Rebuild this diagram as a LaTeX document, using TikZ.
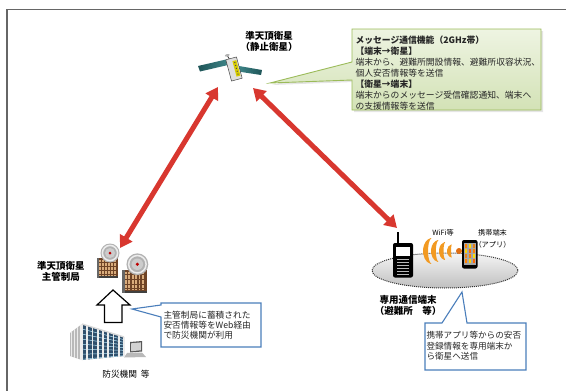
\documentclass[tikz,border=0pt]{standalone}
\usepackage{fontspec}
\setmainfont{Noto Sans CJK JP}
\usetikzlibrary{arrows.meta,shadows,calc}

\definecolor{frameGray}{HTML}{666666}
\definecolor{linkRed}{HTML}{D8372F}
\definecolor{noteGreenTop}{HTML}{EEF4E2}
\definecolor{noteGreenBot}{HTML}{D3E2B6}
\definecolor{noteGreenLine}{HTML}{9BBB59}
\definecolor{noteBlue}{HTML}{4A7EBB}
\definecolor{panelDark}{HTML}{1F5558}
\definecolor{panelLight}{HTML}{3E8588}
\definecolor{brickBrown}{HTML}{6E4326}
\definecolor{windowTan}{HTML}{D9AC7C}
\definecolor{glassBlue}{HTML}{2F4F6C}
\definecolor{wifiOrange}{HTML}{F29A22}
\definecolor{wifiDeep}{HTML}{E06E12}

\tikzset{
  station/.pic={
    % building body
    \fill[brickBrown] (-10.5,0) rectangle (10.5,20);
    \foreach \i in {-8.5,-5.5,...,8} \fill[windowTan] (\i,1.5) rectangle ++(1.7,16);
    \foreach \j in {4,8,12,16} \draw[brickBrown, line width=0.6pt] (-10.5,\j) -- (10.5,\j);
    \fill[black!75] (-10.5,18) rectangle (10.5,20);
    \fill[black!60] (-10.5,0) rectangle (-8.5,20);
    % dish on the roof
    \fill[gray!60] (2.5,-5) circle (9.5);
    \draw[gray!15, line width=1.5pt] (2.5,-5) circle (7.6);
    \fill[gray!40] (2.5,-5) circle (5);
    \fill[red!75!black] (2.5,-5) circle (1.5);
  }
}

\begin{document}
\begin{tikzpicture}[x=1pt,y=-1pt,
  every node/.style={inner sep=0pt, outer sep=0pt},
  frameline/.style={draw=frameGray, line width=1.5pt},
  link/.style={draw=linkRed, line width=5pt,
    {Triangle[length=12pt,width=14pt]}-{Triangle[length=12pt,width=14pt]}},
  greennote/.style={draw=noteGreenLine, line width=0.9pt,
    top color=noteGreenTop, bottom color=noteGreenBot,
    drop shadow={opacity=0.2, shadow xshift=2pt, shadow yshift=-2pt}},
  bluenote/.style={draw=noteBlue, line width=1.1pt, fill=white},
  notetext/.style={align=left, text=black!85},
  labelbold/.style={align=center, font=\fontsize{9.5}{11.5}\selectfont\bfseries},
  smalltext/.style={align=center, font=\fontsize{7.2}{12}\selectfont},
]
\useasboundingbox (0,0) rectangle (566,391);
\fill[white] (0,0) rectangle (566,391);

% frame
\draw[frameline] (7,391) -- (7,9.5) -- (566,9.5);

% ---------- satellite ----------
\shade[left color=panelDark, right color=panelLight] (198,66) -- (226,59.5) -- (228,65) -- (200,71.5) -- cycle;
\shade[left color=panelLight, right color=panelDark] (239,66) -- (262,70) -- (261,75) -- (238,71.5) -- cycle;
\begin{scope}[shift={(234,69)}, rotate=15]
  \fill[gray!25] (-5.5,-11) rectangle (5.5,11);
  \draw[gray!55!black, line width=0.5pt] (-5.5,-11) rectangle (5.5,11);
  \fill[yellow!65!olive] (0.5,-8) rectangle (4.5,8);
  \foreach \k in {-6,-3,...,6} \fill[black!70] (2.5,\k) circle (0.7);
  \draw[gray!50!black, line width=0.8pt] (-2,-11) -- (-3,-15);
  \fill[gray!60] (-3,-15) ellipse (2.5 and 1.2);
\end{scope}
\node[labelbold] (satlabel) at (269,41.5) {準天頂衛星\\（静止衛星）};

% ---------- message callout ----------
\path[greennote] (352,29) -- (541,29) -- (541,110) -- (352,110) -- (352,80)
  -- (270,83) -- (352,62) -- cycle;
\node[notetext, anchor=north west, font=\fontsize{8.8}{11}\selectfont] (msgtext) at (355.5,35.5)
  {\textbf{メッセージ通信機能（2GHz帯）}\\
   \textbf{【端末→衛星】}\\
   端末から、避難所開設情報、避難所収容状況、\\
   個人安否情報等を送信\\
   \textbf{【衛星→端末】}\\
   端末からのメッセージ受信確認通知、端末へ\\
   の支援情報等を送信};

% ---------- links ----------
\coordinate (satL) at (218,87);
\coordinate (satR) at (253,88);
\coordinate (gsTop) at (120,248);
\coordinate (termTop) at (397,228);
\draw[link] (satL) -- (gsTop);
\draw[link] (satR) -- (termTop);

% ---------- master control station ----------
\pic at (107.5,258) {station};
\pic[scale=1.15] at (134.5,270) {station};
\node[labelbold] (gslabel) at (61,271.5) {準天頂衛星\\主管制局};

% up arrow from the agencies
\draw[black, line width=1.2pt, fill=white] (113,290) -- (130,305) -- (122,305) -- (122,322.5)
  -- (104.5,322.5) -- (104.5,305) -- (97,305) -- cycle;

% ---------- disaster agencies ----------
\fill[gray!55] (70,333) -- (82,324) -- (82,360) -- (70,356) -- cycle;
\foreach \t in {0.15,0.4,0.65,0.9}
  \draw[white!85!gray, line width=0.9pt] ($(70,333)!\t!(82,324)$) -- ($(70,356)!\t!(82,360)$);
\fill[glassBlue] (82,324) -- (124,337) -- (124,356) -- (82,360) -- cycle;
\foreach \t in {0.14,0.28,...,0.99}
  \draw[cyan!30!white, line width=0.5pt] ($(82,324)!\t!(82,360)$) -- ($(124,337)!\t!(124,356)$);
\foreach \t in {0,0.125,...,1.01}
  \draw[gray!15, line width=1.6pt] ($(82,324)!\t!(124,337)$) -- ($(82,360)!\t!(124,356)$);
\draw[gray!30, line width=1.4pt] (82,324) -- (124,337);
% laptop
\fill[gray!70!black] (130,342) -- (142,341) -- (142,351.5) -- (130,352.5) -- cycle;
\fill[gray!35] (131.2,343.3) -- (140.8,342.4) -- (140.8,350.3) -- (131.2,351.2) -- cycle;
\fill[gray!55] (127,353) -- (142,352.5) -- (146,357) -- (124,357.5) -- cycle;
\node[font=\fontsize{8.7}{11}\selectfont] (agencylabel) at (126,374) {防災機関\ \ 等};

% note on the agencies
\path[bluenote] (161,303) -- (261,303) -- (261,347) -- (161,347) -- (161,317)
  -- (132,309) -- (161,305) -- cycle;
\node[notetext, anchor=north west, font=\fontsize{8.7}{10}\selectfont] (webtext) at (163.5,311.5)
  {主管制局に蓄積された\\安否情報等をWeb経由\\で防災機関が利用};

% ---------- shelter terminal ----------
\shade[top color=gray!8, bottom color=gray!50] (445,270.5) ellipse (73 and 17.5);
\draw[black!80, line width=1pt, densely dotted] (445,270.5) ellipse (73 and 17.5);
% handheld terminal
\draw[black, line width=1.6pt] (398,232) -- (398,244);
\fill[black, rounded corners=2pt] (393,243) rectangle (413,277.5);
\fill[white] (396,247) rectangle (410,256);
\foreach \yy in {259,262,...,274} \draw[gray!55, line width=0.6pt] (397,\yy) -- (409,\yy);
% wifi waves: crescents growing to the left
\foreach \xc/\a/\b/\w in {432/9/13/5, 439/8/11/4.8, 445.5/6.5/9/4.5, 452/5/6.5/4}
  \fill[wifiOrange] ($(\xc,251)+({\a*cos(100)},{\b*sin(100)})$)
    arc[start angle=100, end angle=260, x radius=\a, y radius=\b]
    -- ($(\xc,251)+({(\a-\w)*cos(260)},{\b*sin(260)})$)
    arc[start angle=260, end angle=100, x radius={\a-\w}, y radius=\b] -- cycle;
\fill[wifiDeep] (459,251) circle (3);
% smartphone
\fill[black, rounded corners=2pt] (462,240) rectangle (477.5,268.5);
\fill[gray!70] (463.8,243) rectangle (475.7,265);
\foreach \cx/\cy/\cc in {464.5/244/orange, 468.5/244/yellow!80!orange, 472.5/244/orange!60!brown,
    464.5/249/yellow!70!orange, 468.5/249/orange!80!red, 472.5/249/orange,
    464.5/254/orange!60!brown, 468.5/254/orange, 472.5/254/yellow!80!orange,
    464.5/259/orange, 468.5/259/yellow!70!orange, 472.5/259/orange!80!red}
  \fill[\cc] (\cx,\cy) rectangle ++(2.8,3.8);
\node[smalltext] (wifilabel) at (443,233) {WiFi等};
\node[smalltext] (phonelabel) at (492.5,239) {携帯端末\\（アプリ）};
\node[labelbold] (termlabel) at (408,305.5) {専用通信端末\\（避難所　等）};

% note on the terminal
\path[bluenote] (425,323) -- (442,323) -- (462,292) -- (467,323) -- (526,323) -- (526,370)
  -- (425,370) -- cycle;
\node[notetext, anchor=north west, font=\fontsize{8.6}{10.6}\selectfont] (apptext) at (426.5,331.5)
  {携帯アプリ等からの安否\\登録情報を専用端末か\\ら衛星へ送信};
\end{tikzpicture}
\end{document}
